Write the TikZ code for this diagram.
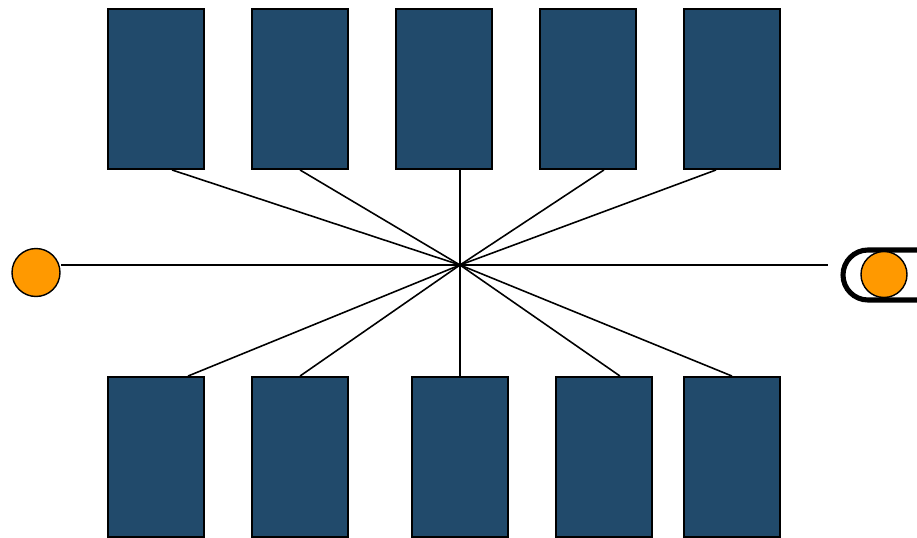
\documentclass[tikz,border=0pt]{standalone}
\usepackage{tikz}
\definecolor{panel}{RGB}{33,74,107}
\definecolor{lamp}{RGB}{255,153,0}

\begin{document}
\begin{tikzpicture}[x=0.02cm, y=-0.02cm]
  \useasboundingbox (0,0) rectangle (917,538);
  \tikzset{box/.style={draw=black,fill=panel,line width=1.1pt,minimum width=1.92cm,minimum height=3.2cm,inner sep=0pt},
           spoke/.style={line width=0.9pt},
           dot/.style={circle,draw=black,fill=lamp,line width=0.8pt,inner sep=0pt}}
  % upper and lower rows of boxes
  \foreach \i/\x in {1/156,2/300,3/444,4/588,5/732}
    \node[box] (t\i) at (\x,89) {};
  \foreach \i/\x in {1/156,2/300,3/460,4/604,5/732}
    \node[box] (b\i) at (\x,457) {};
  \coordinate (hub) at (460,265);
  \coordinate (rend) at (828,265);
  % spokes
  \foreach \i/\s in {1/0.32,2/0,3/0.32,4/0.32,5/-0.32}
    \draw[spoke] (hub) -- ([xshift=\s cm]t\i.south);
  \foreach \i/\s in {1/0.64,2/0,3/0,4/0.32,5/0}
    \draw[spoke] (hub) -- ([xshift=\s cm]b\i.north);
  \node[dot,minimum size=0.96cm] (lc) at (36,272.5) {};
  \draw[spoke] (hub) -- (hub -| lc.east);
  \draw[spoke] (hub) -- (rend);
  % capsule on the right
  \draw[line width=2.9pt] (917,250) -- (868,250) arc (90:270:0.5cm) -- (917,300);
  \node[dot,minimum size=0.92cm] (rc) at (884,274.5) {};
\end{tikzpicture}
\end{document}
